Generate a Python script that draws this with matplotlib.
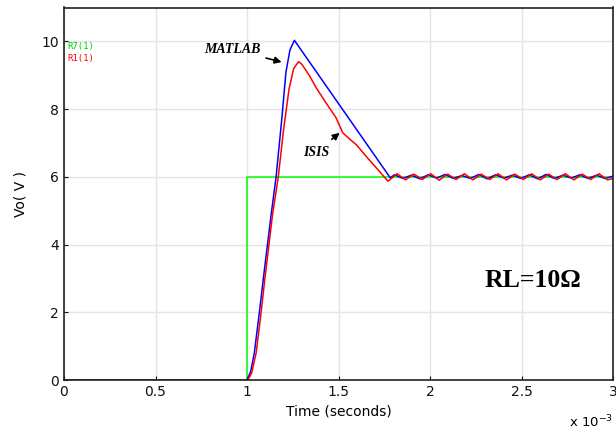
import numpy as np
import matplotlib
matplotlib.use("Agg")
import matplotlib.pyplot as plt

# time in ms (axis shows x 10^-3 s)
t_step = [0.0, 1.0, 1.0, 3.0]
v_step = [0.0, 0.0, 6.0, 6.0]

# MATLAB (blue)
t_matlab = [0.0, 1.0, 1.02, 1.04, 1.067, 1.095, 1.13, 1.159, 1.19, 1.213, 1.235, 1.259,
            1.783, 1.806, 1.852, 1.898, 1.944, 1.99, 2.036, 2.082, 2.128, 2.174, 2.22,
            2.266, 2.312, 2.358, 2.404, 2.45, 2.496, 2.542, 2.588, 2.634, 2.68, 2.726,
            2.772, 2.818, 2.864, 2.91, 2.956, 3.0]
v_matlab = [0.0, 0.0, 0.25, 0.8, 1.97, 3.25, 4.8, 6.0, 7.7, 9.1, 9.75, 10.03,
            5.97, 6.06, 5.95, 6.05, 5.94, 6.06, 5.96, 6.07, 5.95, 6.04, 5.95,
            6.07, 5.94, 6.06, 5.96, 6.05, 5.95, 6.06, 5.94, 6.07, 5.95, 6.05,
            5.96, 6.06, 5.95, 6.05, 5.95, 6.02]

# ISIS (red)
t_isis = [0.0, 1.005, 1.025, 1.05, 1.075, 1.10, 1.14, 1.171, 1.20, 1.23, 1.255, 1.282,
          1.30, 1.34, 1.378, 1.43, 1.487, 1.523, 1.56, 1.597, 1.66, 1.724, 1.770,
          1.82, 1.866, 1.912, 1.958, 2.004, 2.05, 2.096, 2.142, 2.188, 2.234, 2.28,
          2.326, 2.372, 2.418, 2.464, 2.51, 2.556, 2.602, 2.648, 2.694, 2.74, 2.786,
          2.832, 2.878, 2.924, 2.97, 3.0]
v_isis = [0.0, 0.0, 0.2, 0.8, 1.9, 3.1, 4.9, 6.0, 7.4, 8.6, 9.2, 9.4,
          9.32, 9.0, 8.63, 8.2, 7.74, 7.30, 7.12, 6.95, 6.55, 6.16, 5.87,
          6.09, 5.91, 6.08, 5.92, 6.09, 5.90, 6.08, 5.92, 6.09, 5.91, 6.08,
          5.92, 6.09, 5.91, 6.08, 5.92, 6.09, 5.91, 6.08, 5.92, 6.09, 5.91,
          6.08, 5.92, 6.09, 5.91, 5.95]

x_ticks = [0, 0.5, 1, 1.5, 2, 2.5, 3]
x_labels = ["0", "0.5", "1", "1.5", "2", "2.5", "3"]
y_ticks = [0, 2, 4, 6, 8, 10]

fig = plt.figure(figsize=(6.16, 4.32), dpi=100)
ax = fig.add_axes([64 / 616, 52 / 432, 549 / 616, 372.5 / 432])

ax.plot(t_step, v_step, color="#00ff00", lw=1.1)
ax.plot(t_matlab, v_matlab, color="#0000ff", lw=1.1)
ax.plot(t_isis, v_isis, color="#ff0000", lw=1.1)

ax.set_xlim(0, 3)
ax.set_ylim(0, 11)
ax.set_xticks(x_ticks)
ax.set_xticklabels(x_labels)
ax.set_yticks(y_ticks)
ax.grid(True, color="#e4e4e4", lw=1)
ax.set_axisbelow(True)
ax.tick_params(direction="in", length=3, labelsize=10, colors="#111111")
for s in ax.spines.values():
    s.set_linewidth(1.2)
    s.set_color("#222222")

ax.set_xlabel("Time (seconds)", fontsize=10, labelpad=4)
ax.set_ylabel("Vo( V )", fontsize=10, labelpad=10)
ax.text(1.0, -0.113, r"x $10^{-3}$", transform=ax.transAxes, ha="right",
        va="center", fontsize=9.5)

# small legend labels
ax.text(0.006, 0.894, "R7(1)", transform=ax.transAxes, color="#00cc00",
        fontsize=6.5, va="center", family="DejaVu Sans Mono")
ax.text(0.006, 0.864, "R1(1)", transform=ax.transAxes, color="#ff0000",
        fontsize=6.5, va="center", family="DejaVu Sans Mono")

serif = dict(family="Liberation Serif", fontweight="bold", fontstyle="italic")
ax.annotate("MATLAB", xy=(1.204, 9.37), xytext=(0.92, 9.76), ha="center", va="center",
            fontsize=10, **serif,
            arrowprops=dict(arrowstyle="-|>", color="black", lw=1.2, mutation_scale=10))
ax.annotate("ISIS", xy=(1.518, 7.35), xytext=(1.378, 6.73), ha="center", va="center",
            fontsize=10, **serif,
            arrowprops=dict(arrowstyle="-|>", color="black", lw=1.2, mutation_scale=10,
                            shrinkA=4))
ax.text(2.56, 2.93, "RL=10Ω", ha="center", va="center", fontsize=18.5,
        family="Liberation Serif", fontweight="bold")

fig.savefig("out.png", dpi=100)
